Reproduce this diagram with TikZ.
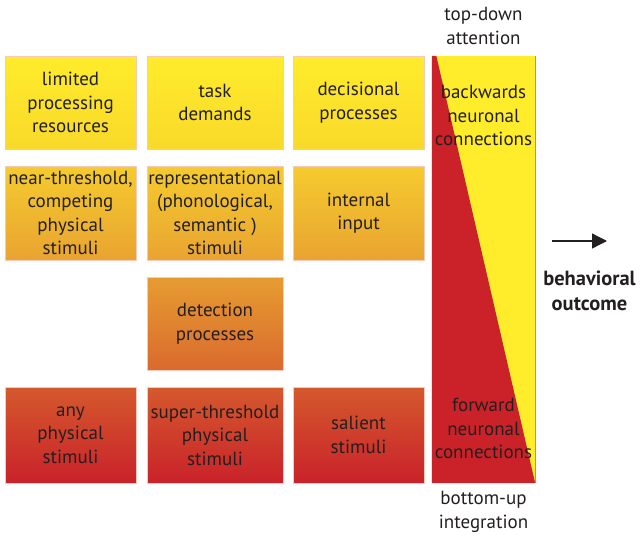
\documentclass[tikz,border=0pt]{standalone}
\usepackage{fontspec}
\setmainfont{PT Sans}
\usetikzlibrary{arrows.meta,calc}
\definecolor{txt}{HTML}{231F20}
\definecolor{ya}{HTML}{FFEC2B}
\definecolor{yb}{HTML}{F9D92A}
\definecolor{oa}{HTML}{F5CB2E}
\definecolor{ob}{HTML}{E9A431}
\definecolor{da}{HTML}{E69C31}
\definecolor{db}{HTML}{DA6A2E}
\definecolor{ra}{HTML}{D5592D}
\definecolor{rb}{HTML}{C9222A}
\definecolor{tyellow}{HTML}{FFED2B}
\definecolor{tred}{HTML}{CB2229}
\definecolor{edge}{HTML}{F6C9B8}
\tikzset{
  box/.style={draw=edge, line width=0.5pt, inner sep=0pt, align=center,
    text=txt, font=\fontsize{19}{23.5}\selectfont},
  lab/.style={inner sep=0pt, align=center, text=txt, font=\fontsize{19}{23.5}\selectfont},
}
\begin{document}
\begin{tikzpicture}[x=1pt,y=-1pt]
\useasboundingbox (0,0) rectangle (643,538);
% row 1
\node[box, top color=ya, bottom color=yb, minimum width=131pt, minimum height=93pt] (lim) at (70.5,102.5) {limited\\processing\\resources};
\node[box, top color=ya, bottom color=yb, minimum width=136pt, minimum height=93pt] (task) at (215,102.5) {\raisebox{-5pt}{\parbox{130pt}{\centering task\\demands}}};
\node[box, top color=ya, bottom color=yb, minimum width=131pt, minimum height=93pt] (dec) at (358.5,102.5) {decisional\\processes};
% row 2
\node[box, top color=oa, bottom color=ob, minimum width=131pt, minimum height=94pt] (near) at (70.5,213) {near-threshold,\\competing\\physical\\stimuli};
\node[box, top color=oa, bottom color=ob, minimum width=136pt, minimum height=94pt] (rep) at (215,213) {representational\\(phonological,\\semantic )\\stimuli};
\node[box, top color=oa, bottom color=ob, minimum width=131pt, minimum height=94pt] (int) at (358.5,213) {internal\\input};
% row 3
\node[box, top color=da, bottom color=db, minimum width=136pt, minimum height=93pt] (det) at (215,323.5) {detection\\processes};
% row 4
\node[box, top color=ra, bottom color=rb, minimum width=131pt, minimum height=96pt] (any) at (70.5,435) {any\\physical\\stimuli};
\node[box, top color=ra, bottom color=rb, minimum width=136pt, minimum height=96pt] (sup) at (215,435) {super-threshold\\physical\\stimuli};
\node[box, top color=ra, bottom color=rb, minimum width=131pt, minimum height=96pt] (sal) at (358.5,435) {salient\\stimuli};
% connection column
\node[fill=tyellow, inner sep=0pt, minimum width=103pt, minimum height=427pt] (conn) at (483.5,269.5) {};
\coordinate (tipA) at ($(conn.north west)+(4.5,0)$);
\fill[tred] (conn.north west) -- (tipA) -- (conn.south east) -- (conn.south west) -- cycle;
\draw[tred!60, line width=0.6pt] (conn.north east) -- (conn.south east);
\node[lab] (back) at (483.5,115.5) {backwards\\neuronal\\connections};
\node[lab] (fwd) at (483.5,428.5) {forward\\neuronal\\connections};
\node[lab] (top) at (483.5,26) {top-down\\attention};
\node[lab] (bot) at (483.5,512) {bottom-up\\integration};
% arrow and outcome
\coordinate (arrS) at (552,241);
\coordinate (arrE) at (607,241);
\draw[txt, line width=1.3pt, -{Triangle[length=15pt,width=15pt]}] (arrS) -- (arrE);
\node[lab, font=\bfseries\fontsize{20.5}{24.5}\selectfont] (beh) at (589.5,291) {behavioral\\outcome};
\end{tikzpicture}
\end{document}
